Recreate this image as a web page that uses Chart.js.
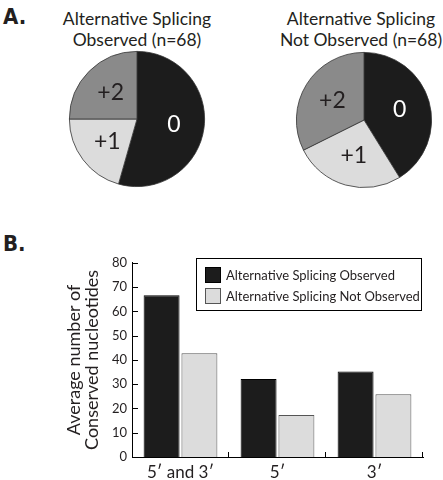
<!DOCTYPE html>
<html>
<head>
<meta charset="utf-8">
<script src="https://cdn.jsdelivr.net/npm/chart.js@4"></script>
<style>
body { margin: 0; background: #fff; font-family: Lato, sans-serif; color: #231f20; }
#page { position: relative; width: 443px; height: 480px; overflow: hidden; }
.panneau { position: absolute; left: 3px; font-family: "Liberation Sans Narrow", "DejaVu Sans Condensed", sans-serif; font-weight: bold; font-size: 22px; line-height: 22px; }
.titre-pie { position: absolute; top: 8px; width: 220px; text-align: center; font-size: 17.5px; line-height: 21px; }
canvas { position: absolute; }
#legende { position: absolute; left: 196px; top: 258px; width: 226px; height: 53px; border: 1px solid #000; box-sizing: border-box; padding: 5px 0 0 8px; font-size: 13px; }
.ligne-legende { display: flex; align-items: center; height: 21px; }
.carre { width: 16px; height: 16px; box-sizing: border-box; border: 1px solid #444; margin-right: 5px; }
</style>
</head>
<body>
<div id="page">
  <div class="panneau" style="top:6px">A.</div>
  <div class="titre-pie" style="left:27px">Alternative Splicing<br>Observed (n=68)</div>
  <div class="titre-pie" style="left:251px">Alternative Splicing<br>Not Observed (n=68)</div>
  <canvas id="pie1" width="140" height="140" style="left:67px; top:49px"></canvas>
  <canvas id="pie2" width="140" height="140" style="left:294px; top:50px"></canvas>
  <div class="panneau" style="top:233px">B.</div>
  <canvas id="barres" width="443" height="230" style="left:0; top:250px"></canvas>
  <div id="legende"></div>
</div>
<script>
// données des camemberts (nombre de gènes par décalage, n=68)
const categoriesPie = ["0", "+1", "+2"];
const pieObserve = [37, 14, 17];
const pieNonObserve = [28, 18, 22];

// données de l'histogramme
const series = ["Alternative Splicing Observed", "Alternative Splicing Not Observed"];
const categoriesBarre = ["5\u2032 and 3\u2032", "5\u2032", "3\u2032"];
const barreObserve = [66.6, 32.1, 35.2];
const barreNonObserve = [42.7, 17.3, 25.8];
const axeYMin = 0;
const axeYMax = 80;
const axeYPas = 10;
const titreAxeY = ["Average number of", "Conserved nucleotides"];

const couleursPie = ["#1c1c1c", "#dcdcdc", "#8a8a8a"];
const couleursTextePie = ["#ffffff", "#231f20", "#231f20"];
const couleursBarre = ["#1c1c1c", "#dcdcdc"];
const bordsBarre = ["#000000", "#555555"];

// écrit 0, +1, +2 dans chaque part
const etiquettesPie = {
    id: 'etiquettesPie',
    afterDatasetsDraw(chart) {
        const ctx = chart.ctx;
        ctx.save();
        ctx.font = "23px Lato";
        ctx.textAlign = "center";
        ctx.textBaseline = "middle";
        chart.getDatasetMeta(0).data.forEach((arc, i) => {
            const p = arc.getProps(['x', 'y', 'startAngle', 'endAngle', 'outerRadius'], true);
            const milieu = (p.startAngle + p.endAngle) / 2;
            const r = p.outerRadius * 0.55;
            ctx.fillStyle = couleursTextePie[i];
            ctx.fillText(chart.data.labels[i], p.x + Math.cos(milieu) * r, p.y + Math.sin(milieu) * r);
        });
        ctx.restore();
    }
};

const creerPie = (id, valeurs) => {
    const ctx = document.getElementById(id).getContext('2d');
    return new Chart(ctx, {
        type: 'pie',
        data: {
            labels: categoriesPie,
            datasets: [{
                data: valeurs,
                backgroundColor: couleursPie,
                borderColor: '#333333',
                borderWidth: 0.8
            }]
        },
        options: {
            responsive: false,
            animation: false,
            layout: { padding: 2 },
            plugins: { legend: { display: false }, tooltip: { enabled: false } }
        },
        plugins: [etiquettesPie]
    });
};

creerPie('pie1', pieObserve);
creerPie('pie2', pieNonObserve);

// petits traits vers l'intérieur (entre les catégories en x, sur chaque graduation en y)
const traitsAxes = {
    id: 'traitsAxes',
    afterDraw(chart) {
        const x = chart.scales.x;
        const y = chart.scales.y;
        const ctx = chart.ctx;
        ctx.save();
        ctx.strokeStyle = '#000';
        ctx.lineWidth = 1;
        ctx.beginPath();
        for (let i = 1; i <= chart.data.labels.length; i++) {
            const px = Math.round(x.getPixelForValue(i - 0.5)) - 0.5;
            ctx.moveTo(px, x.top);
            ctx.lineTo(px, x.top - 5);
        }
        y.ticks.forEach(t => {
            const py = Math.round(y.getPixelForValue(t.value)) + 0.5;
            ctx.moveTo(y.right, py);
            ctx.lineTo(y.right + 6, py);
        });
        ctx.stroke();
        ctx.restore();
    }
};

const ctxBarres = document.getElementById('barres').getContext('2d');
new Chart(ctxBarres, {
    type: 'bar',
    data: {
        labels: categoriesBarre,
        datasets: [{
            label: series[0],
            data: barreObserve,
            backgroundColor: couleursBarre[0],
            borderColor: bordsBarre[0],
            borderWidth: 1
        }, {
            label: series[1],
            data: barreNonObserve,
            backgroundColor: couleursBarre[1],
            borderColor: bordsBarre[1],
            borderWidth: 1
        }]
    },
    options: {
        responsive: false,
        animation: false,
        categoryPercentage: 0.78,
        barPercentage: 0.95,
        layout: { padding: { top: 11, right: 20, left: 0, bottom: 0 } },
        plugins: { legend: { display: false }, tooltip: { enabled: false } },
        scales: {
            x: {
                grid: { display: false, drawTicks: false },
                border: { color: '#000', width: 1 },
                ticks: { color: '#231f20', font: { family: 'Lato', size: 17 }, padding: 5 },
                afterFit: s => { s.height = 23; }
            },
            y: {
                min: axeYMin,
                max: axeYMax,
                ticks: { stepSize: axeYPas, color: '#231f20', font: { family: 'Lato', size: 13 }, padding: 5 },
                grid: { display: false, drawTicks: false },
                border: { color: '#000', width: 1 },
                title: {
                    display: true,
                    text: titreAxeY,
                    color: '#231f20',
                    font: { family: 'Lato', size: 18, lineHeight: 1.0 },
                    padding: { top: 65, bottom: 0 }
                },
                afterFit: s => { s.width = 132; }
            }
        }
    },
    plugins: [traitsAxes]
});

// légende en html
const legende = document.getElementById("legende");
series.forEach((nom, i) => {
    let ligne = document.createElement("div");
    ligne.className = "ligne-legende";
    ligne.innerHTML = '<span class="carre" style="background:' + couleursBarre[i] + ';border-color:' + bordsBarre[i] + '"></span>' + nom;
    legende.appendChild(ligne);
});
</script>
</body>
</html>
